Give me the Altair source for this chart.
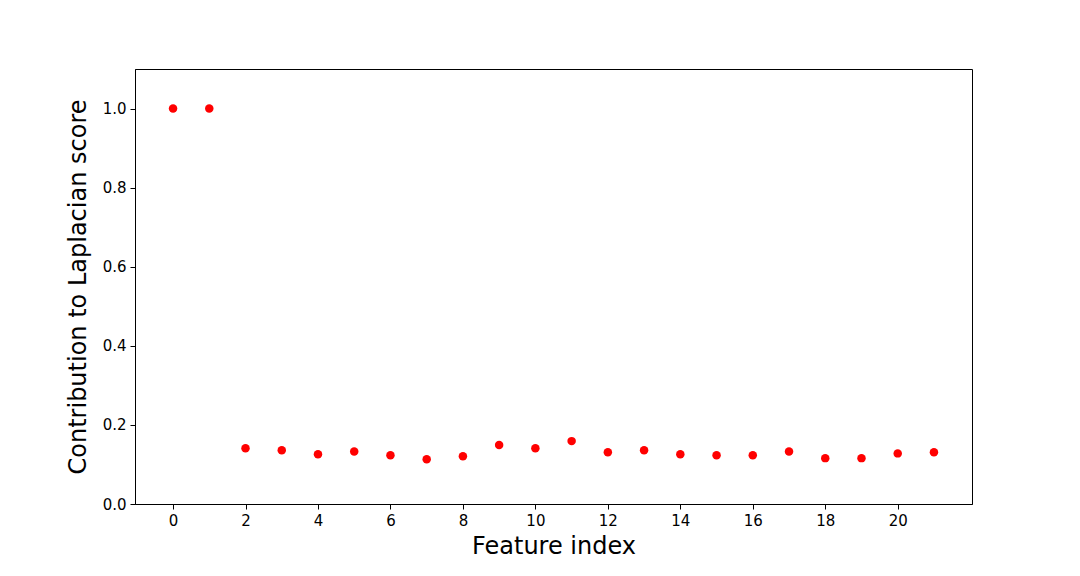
import altair as alt
import pandas as pd

feature_index = list(range(22))
contribution = [1.0, 1.0, 0.141, 0.136, 0.126, 0.133, 0.123, 0.113, 0.121, 0.149,
                0.141, 0.159, 0.131, 0.136, 0.126, 0.123, 0.123, 0.133, 0.116, 0.116,
                0.128, 0.131]
x_ticks = list(range(0, 22, 2))
y_ticks = [0.0, 0.2, 0.4, 0.6, 0.8, 1.0]

df = pd.DataFrame({"feature": feature_index, "value": contribution})

font = "DejaVu Sans"

chart = alt.Chart(df).mark_circle(color="#ff0000", opacity=1, size=72).encode(
    x=alt.X("feature:Q", title="Feature index",
            scale=alt.Scale(domain=[-1.05, 22.05], nice=False, zero=False),
            axis=alt.Axis(values=x_ticks, format="d", grid=False, tickSize=5,
                          labelFontSize=15, titleFontSize=24, labelPadding=4,
                          titlePadding=6, domainColor="black", tickColor="black",
                          labelColor="black", titleColor="black", titleFontWeight="normal",
                          labelFont=font, titleFont=font, labelFlush=False)),
    y=alt.Y("value:Q", title="Contribution to Laplacian score",
            scale=alt.Scale(domain=[0, 1.1], nice=False),
            axis=alt.Axis(values=y_ticks, format=".1f", grid=False, tickSize=5,
                          labelFontSize=15, titleFontSize=24, labelPadding=4,
                          titlePadding=12, domainColor="black", tickColor="black",
                          labelColor="black", titleColor="black", titleFontWeight="normal",
                          labelFont=font, titleFont=font, labelFlush=False)),
).properties(
    width=837, height=435,
    autosize=alt.AutoSizeParams(type="none"),
    padding={"left": 127, "top": 61, "right": 100, "bottom": 64},
).configure_view(stroke="black", strokeWidth=1)

chart.save("out.html", embed_options={"renderer": "svg", "actions": False})
